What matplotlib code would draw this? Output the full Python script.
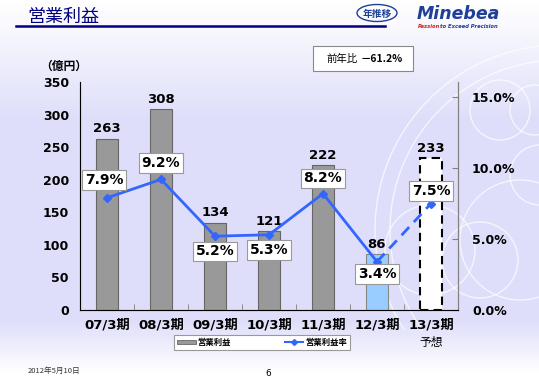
import matplotlib.pyplot as plt
import matplotlib.patches as mpatches
from matplotlib.lines import Line2D
import numpy as np

plt.rcParams['font.family'] = ['DejaVu Sans', 'Noto Sans CJK JP']

# data
periods = ['07/3期', '08/3期', '09/3期', '10/3期', '11/3期', '12/3期', '13/3期']
profit = [263, 308, 134, 121, 222, 86, 233]          # 億円
margin = [7.9, 9.2, 5.2, 5.3, 8.2, 3.4, 7.5]          # %
margin_labels = ['7.9%', '9.2%', '5.2%', '5.3%', '8.2%', '3.4%', '7.5%']
# label offsets (points) relative to each margin marker
lab_dx = [-2, 0, 0, 0, 0, 0, 0]
lab_dy = [13, 12, -11, -11, 11, -9, 9]

W, H = 539, 380
fig = plt.figure(figsize=(W / 100, H / 100), dpi=100)

# background gradient + decorative rings
bg = fig.add_axes([0, 0, 1, 1], zorder=-10)
bg.set_xlim(0, W)
bg.set_ylim(H, 0)
bg.axis('off')
rows = np.arange(H)
top = np.array([255, 255, 255]) / 255
lav = np.array([222, 222, 250]) / 255
t = np.interp(rows, [0, 32, 120, 320, 372], [0, 0.25, 1, 1, 0])
grad = top[None, :] * (1 - t[:, None]) + lav[None, :] * t[:, None]
img = np.repeat(grad[:, None, :], W, axis=1)
bg.imshow(img, extent=[0, W, H, 0], aspect='auto')
rings = [(560, 230, 185), (560, 230, 170), (520, 240, 60), (540, 175, 30),
         (500, 110, 30), (535, 110, 25), (480, 260, 38), (430, 250, 45)]
clip = mpatches.Rectangle((360, 40), 179, 290, transform=bg.transData)
for cx, cy, r in rings:
    c = mpatches.Circle((cx, cy), r, fill=False, ec='white', lw=1.0, alpha=0.7)
    bg.add_patch(c)
    c.set_clip_path(clip)

# header
fig.text(27 / W, 1 - 17 / H, '営業利益', fontsize=13, color='#000080',
         family='Noto Sans CJK JP', va='center', ha='left')
bg.plot([16, 385], [25.5, 25.5], color='#000080', lw=1.8)
bg.add_patch(mpatches.Ellipse((377, 13), 40, 17, fill=False, ec='#1F3F99', lw=1.0))
bg.text(377, 13.5, '年推移', fontsize=7, color='#1F3F99', family='Noto Sans CJK JP',
        ha='center', va='center', weight='bold')
bg.text(458, 14, 'Minebea', fontsize=12.5, color='#1F3F99', weight='bold',
        style='italic', ha='center', va='center')
bg.text(418, 26.5, 'Passion', fontsize=3.8, color='#CC2222', weight='bold',
        style='italic', ha='left', va='center')
bg.text(440.5, 26.5, 'to Exceed Precision', fontsize=3.8, color='#1F3F99', weight='bold',
        style='italic', ha='left', va='center')

# yoy box
bg.add_patch(mpatches.Rectangle((313, 46), 100, 25, fc='white', ec='#888888', lw=0.8))
bg.text(326, 58.5, '前年比', fontsize=7.5, family='Noto Sans CJK JP', ha='left', va='center')
bg.text(360, 58.5, '－61.2%', fontsize=7.5, family=['Noto Sans CJK JP'], weight='bold',
        ha='left', va='center')

bg.text(40, 66, '（億円）', fontsize=8.5, family='Noto Sans CJK JP', weight='bold',
        ha='left', va='center')

# footer
bg.text(28, 371, '2012年5月10日', fontsize=5.5, style='italic', family='Noto Sans CJK JP',
        ha='left', va='center', color='#333333')
bg.text(268, 374, '6', fontsize=6.5, ha='center', va='center')

# main axes
ax = fig.add_axes([80 / W, 70 / H, 378 / W, 228 / H])
ax.patch.set_alpha(0)
x = np.arange(len(periods))
fc = ['#999999'] * 5 + ['#99CCFF', 'white']
ec = ['#666666'] * 5 + ['#888888', 'black']
bars = ax.bar(x, profit, width=0.4, color=fc, edgecolor=ec, lw=0.8, zorder=2)
bars[-1].set_linestyle((0, (4, 2.5)))
bars[-1].set_linewidth(1.5)
for xi, v in zip(x, profit):
    ax.annotate(str(v), (xi, v), xytext=(0, 2.5), textcoords='offset points',
                ha='center', va='bottom', fontsize=9.5, weight='bold')
ax.set_xlim(-0.5, len(periods) - 0.5)
ax.set_ylim(0, 350)
ax.set_yticks(range(0, 351, 50))
ax.set_xticks(x)
ax.set_xticklabels(periods[:-1] + ['13/3期'], fontsize=9.5, weight='bold')
ax.set_xticks(np.arange(0.5, len(periods) - 1, 1), minor=True)
ax.tick_params(axis='x', which='major', length=0, pad=6)
ax.tick_params(axis='x', which='minor', length=4, direction='in', color='#808080')
ax.tick_params(axis='y', length=0, pad=8, labelsize=9)
for lab in ax.get_yticklabels():
    lab.set_fontweight('bold')
ax.text(6, -40, '予想', fontsize=8.5, family='Noto Sans CJK JP', ha='center', va='top',
        transform=ax.transData, clip_on=False)
ax.spines['top'].set_visible(False)
for s in ['left', 'bottom', 'right']:
    ax.spines[s].set_color('#808080')

ax2 = ax.twinx()
ax2.set_ylim(0, 16.06)
ax2.set_yticks([0, 5, 10, 15])
ax2.set_yticklabels(['0.0%', '5.0%', '10.0%', '15.0%'], fontsize=9, weight='bold')
ax2.tick_params(axis='y', length=4, direction='in', pad=10, color='#808080')
ax2.spines['top'].set_visible(False)
ax2.spines['right'].set_color('#808080')
blue = '#3366FF'
ax2.plot(x[:-1], margin[:-1], color=blue, lw=2, marker='D', ms=4.5, zorder=3)
ax2.plot(x[-2:], margin[-2:], color=blue, lw=2, ls=(0, (4, 2.5)), zorder=3)
ax2.plot(x[-1:], margin[-1:], color=blue, marker='D', ms=4.5, ls='none', zorder=3)
for xi, v, s, dx, dy in zip(x, margin, margin_labels, lab_dx, lab_dy):
    ax2.annotate(s, (xi, v), xytext=(dx, dy), textcoords='offset points',
                 ha='center', va='center', fontsize=10, weight='bold', zorder=5,
                 bbox=dict(boxstyle='square,pad=0.2', fc='white', ec='#999999', lw=0.8))

# legend
h1 = mpatches.Rectangle((0, 0), 1, 1, fc='#999999', ec='#666666', lw=0.6)
h2 = Line2D([], [], color=blue, lw=1.5, marker='D', ms=3)
leg = fig.legend([h1, h2], ['営業利益', '営業利益率'], ncol=2, loc='center',
                 bbox_to_anchor=(262 / W, 1 - 342.5 / H), frameon=True, fancybox=False,
                 edgecolor='#999999', framealpha=1, handlelength=2.2, handleheight=0.5,
                 columnspacing=6.5, handletextpad=0.2, borderpad=0.35, borderaxespad=0,
                 prop={'family': 'Noto Sans CJK JP', 'weight': 'bold', 'size': 6})
leg.get_frame().set_linewidth(0.8)

fig.savefig('out.png', dpi=100)
